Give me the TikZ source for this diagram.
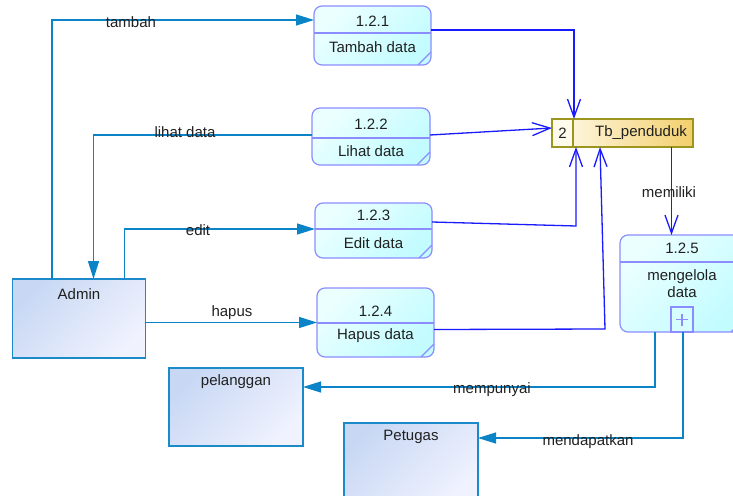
\documentclass[tikz,border=0pt]{standalone}
\usepackage{fontspec}
\setmainfont{Liberation Sans}
\usetikzlibrary{arrows.meta}
\definecolor{procA}{HTML}{ECFFFF}
\definecolor{procB}{HTML}{C2FCFF}
\definecolor{procborder}{HTML}{8C8CFF}
\definecolor{storeA}{HTML}{FFFBEC}
\definecolor{storeB}{HTML}{F3CF6C}
\definecolor{storeborder}{HTML}{9C961E}
\definecolor{entA}{HTML}{C8D8F4}
\definecolor{entB}{HTML}{F0F2FE}
\definecolor{entborder}{HTML}{1B8ACB}
\definecolor{eflowc}{HTML}{0A84C6}
\definecolor{dflowc}{HTML}{1A1AFF}
\definecolor{txtc}{HTML}{202020}
\begin{document}
\begin{tikzpicture}[x=1pt,y=-1pt,
  proc/.style={draw=procborder, line width=1.2pt, rounded corners=8pt, top color=procA, bottom color=procB, shading angle=45, anchor=north west, inner sep=0pt, outer sep=0pt},
  procline/.style={draw=procborder, line width=1.2pt},
  entity/.style={draw=entborder, line width=1.2pt, top color=entA, bottom color=entB, shading angle=45, anchor=north west, inner sep=0pt, outer sep=0pt},
  storebox/.style={draw=storeborder, line width=1.2pt, anchor=north west, inner sep=0pt, outer sep=0pt},
  txt/.style={font=\fontsize{15}{17}\selectfont, text=txtc, inner sep=0pt, align=center},
  eflow/.style={draw=eflowc, line width=1.3pt, -{Triangle[length=18pt,width=11pt]}},
  dflow/.style={draw=dflowc, line width=1.3pt, -{Straight Barb[length=18pt,width=13pt]}}
]
\useasboundingbox (0,0) rectangle (733,495);
\clip (0,0) rectangle (733,495);

% processes
\node[proc, minimum width=117pt, minimum height=59pt] (p1) at (314,6) {};
\draw[procline] ([yshift=-27pt]p1.north west) -- ([yshift=-27pt]p1.north east);
\draw[procline] ([xshift=-13pt]p1.south east) -- ([yshift=13pt]p1.south east);
\node[txt] (p1a) at (372.5,21) {1.2.1};
\node[txt] (p1b) at (372.5,47) {Tambah data};

\node[proc, minimum width=118pt, minimum height=57pt] (p2) at (312,108) {};
\draw[procline] ([yshift=-30pt]p2.north west) -- ([yshift=-30pt]p2.north east);
\draw[procline] ([xshift=-13pt]p2.south east) -- ([yshift=13pt]p2.south east);
\node[txt] (p2a) at (371,124) {1.2.2};
\node[txt] (p2b) at (371,151) {Lihat data};

\node[proc, minimum width=117pt, minimum height=55pt] (p3) at (315,203) {};
\draw[procline] ([yshift=-26pt]p3.north west) -- ([yshift=-26pt]p3.north east);
\draw[procline] ([xshift=-13pt]p3.south east) -- ([yshift=13pt]p3.south east);
\node[txt] (p3a) at (373.5,215) {1.2.3};
\node[txt] (p3b) at (373.5,243) {Edit data};

\node[proc, minimum width=117pt, minimum height=69pt] (p4) at (317,288) {};
\draw[procline] ([yshift=-35pt]p4.north west) -- ([yshift=-35pt]p4.north east);
\draw[procline] ([xshift=-13pt]p4.south east) -- ([yshift=13pt]p4.south east);
\node[txt] (p4a) at (375.5,311) {1.2.4};
\node[txt] (p4b) at (375.5,336) {Hapus data};

\node[proc, minimum width=124pt, minimum height=97pt] (p5) at (620,235) {};
\draw[procline] ([yshift=-27pt]p5.north west) -- ([yshift=-27pt]p5.north east);
\draw[procline] ([xshift=-13pt]p5.south east) -- ([yshift=13pt]p5.south east);
\node[txt] (p5a) at (682,248) {1.2.5};
\node[txt] (p5b) at (682,284) {mengelola\\data};
\node[draw=procborder, line width=1.2pt, fill=procA!50!procB, minimum width=22pt, minimum height=25pt, inner sep=0pt, outer sep=0pt, anchor=south] (plus) at (p5.south) {};
\draw[procline] ([xshift=-6pt]plus.center) -- ([xshift=6pt]plus.center);
\draw[procline] ([yshift=-6pt]plus.center) -- ([yshift=6pt]plus.center);

% data store
\node[storebox, left color=storeA, right color=storeB, minimum width=141pt, minimum height=28pt] (store) at (552,119) {};
\node[storebox, fill=storeA, minimum width=21pt, minimum height=28pt] (cell) at (552,119) {};
\node[txt] (s1) at (562.5,133) {2};
\node[txt] (s2) at (641,133) {Tb\_penduduk};

% entities
\node[entity, minimum width=133pt, minimum height=79pt] (admin) at (12.5,279) {};
\node[txt] (admint) at (79,294) {Admin};
\node[entity, minimum width=134pt, minimum height=78pt] (pel) at (169,368) {};
\node[txt] (pelt) at (236,382) {pelanggan};
\node[entity, minimum width=134pt, minimum height=80pt] (pet) at (344,423) {};
\node[txt] (pett) at (411,437) {Petugas};

% entity flows
\draw[eflow] ([xshift=39.5pt]admin.north west) |- ([yshift=15.5pt]p1.west);
\draw[eflow] ([yshift=1.5pt]p2.west) -| ([xshift=81pt]admin.north west);
\draw[eflow] ([xshift=112pt]admin.north west) |- ([yshift=1.5pt]p3.west);
\draw[eflow] (admin.east |- p4.west) -- (p4.west);
\draw[eflow] ([xshift=35pt]p5.south west) |- ([yshift=20pt]pel.east);
\draw[eflow] ([xshift=63pt]p5.south west) |- ([yshift=25pt]pet.east);

% data flows
\coordinate (c3) at (576,226);
\coordinate (c4) at (605,329);
\draw[dflow] ([yshift=5.5pt]p1.east) -| ([xshift=22pt]store.north west);
\draw[dflow] ([yshift=1.5pt]p2.east) -- ([yshift=5pt]store.west);
\draw[dflow] ([yshift=8.5pt]p3.east) -- (c3) -- ([xshift=24pt]store.south west);
\draw[dflow] ([yshift=-7pt]p4.east) -- (c4) -- ([xshift=48pt]store.south west);
\draw[dflow] ([xshift=119.5pt]store.south west) -- ([xshift=51.5pt]p5.north west);

% labels
\node[txt] (l1) at (131,22) {tambah};
\node[txt] (l2) at (185,132) {lihat data};
\node[txt] (l3) at (198,230) {edit};
\node[txt] (l4) at (232,313) {hapus};
\node[txt] (l5) at (669,192) {memiliki};
\node[txt] (l6) at (492,390) {mempunyai};
\node[txt] (l7) at (588,442) {mendapatkan};
\end{tikzpicture}
\end{document}
